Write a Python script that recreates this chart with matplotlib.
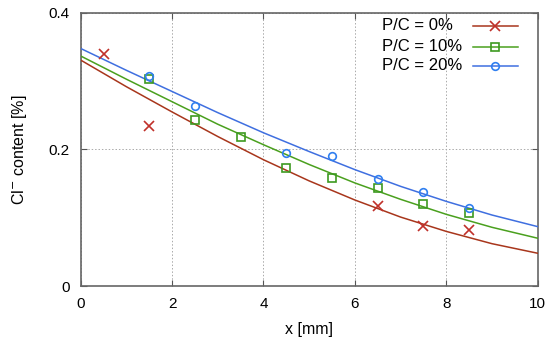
import matplotlib
matplotlib.use("Agg")
import matplotlib.pyplot as plt

plt.rcParams['font.family'] = ['Liberation Sans', 'DejaVu Sans']

# measured points
x_pc0 = [0.5, 1.5, 6.5, 7.5, 8.5]
y_pc0 = [0.340, 0.235, 0.117, 0.088, 0.082]
x_pc10 = [1.5, 2.5, 3.5, 4.5, 5.5, 6.5, 7.5, 8.5]
y_pc10 = [0.304, 0.243, 0.218, 0.173, 0.158, 0.143, 0.120, 0.107]
x_pc20 = [1.5, 2.5, 4.5, 5.5, 6.5, 7.5, 8.5]
y_pc20 = [0.308, 0.263, 0.195, 0.191, 0.157, 0.138, 0.115]

# fitted curves
x_fit = [0, 1, 2, 3, 4, 5, 6, 7, 8, 9, 10]
fit_pc0 = [0.331, 0.292, 0.255, 0.219, 0.185, 0.154, 0.126, 0.101, 0.080, 0.062, 0.048]
fit_pc10 = [0.337, 0.303, 0.270, 0.237, 0.207, 0.178, 0.151, 0.127, 0.105, 0.086, 0.070]
fit_pc20 = [0.348, 0.316, 0.285, 0.254, 0.2245, 0.197, 0.1705, 0.146, 0.124, 0.104, 0.087]

labels = ["P/C = 0%", "P/C = 10%", "P/C = 20%"]
x_ticks = [0, 2, 4, 6, 8, 10]
y_ticks = [0, 0.2, 0.4]
y_tick_labels = ["0", "0.2", "0.4"]

line_colors = ['#a8361c', '#4aa01e', '#3f6fe0']
mark_colors = ['#c0302a', '#3d9a20', '#2f7ff0']
markers = ['x', 's', 'o']
msizes = [7, 6, 5.5]

fig = plt.figure(figsize=(5.5, 3.49), dpi=100)
ax = fig.add_axes([0.1467, 0.1805, 0.8309, 0.7823])

fits = [fit_pc0, fit_pc10, fit_pc20]
pts = [(x_pc0, y_pc0), (x_pc10, y_pc10), (x_pc20, y_pc20)]
for i in range(3):
    ax.plot(x_fit, fits[i], color=line_colors[i], lw=1.1, zorder=3)
    ax.plot(pts[i][0], pts[i][1], linestyle='none', marker=markers[i],
            ms=msizes[i], mfc='none', mec=mark_colors[i], mew=1.2, zorder=4)

ax.set_xlim(0, 10)
ax.set_ylim(0, 0.4)
ax.set_xticks(x_ticks)
ax.set_yticks(y_ticks)
ax.set_yticklabels(y_tick_labels)
ax.tick_params(direction='in', length=4, width=0.8, colors='#555555',
               labelcolor='black', labelsize=11, top=True, right=True)
ax.tick_params(axis='x', pad=8)
ax.tick_params(axis='y', pad=8)
ax.grid(True, color='#aaaaaa', lw=0.7, linestyle=(0, (1.5, 2)))
for s in ax.spines.values():
    s.set_color('#666666')
    s.set_linewidth(1.2)

ax.set_xlabel("x [mm]", fontsize=11.5, labelpad=8)
ax.set_ylabel("Cl$^{\\mathsf{-}}$ content [%]", fontsize=11.5, labelpad=14)

# legend (gnuplot style: text left, sample on right)
rows = [0.9535, 0.8766, 0.8059]
for i in range(3):
    ax.text(0.659, rows[i], labels[i], transform=ax.transAxes, fontsize=12,
            ha='left', va='center')
    ax.plot([0.858, 0.957], [rows[i], rows[i]], transform=ax.transAxes,
            color=line_colors[i], lw=1.1, clip_on=False)
    ax.plot([0.9075], [rows[i]], transform=ax.transAxes, marker=markers[i],
            ms=msizes[i], mfc='none', mec=mark_colors[i], mew=1.2,
            linestyle='none', clip_on=False)

fig.savefig("out.png", dpi=100)
